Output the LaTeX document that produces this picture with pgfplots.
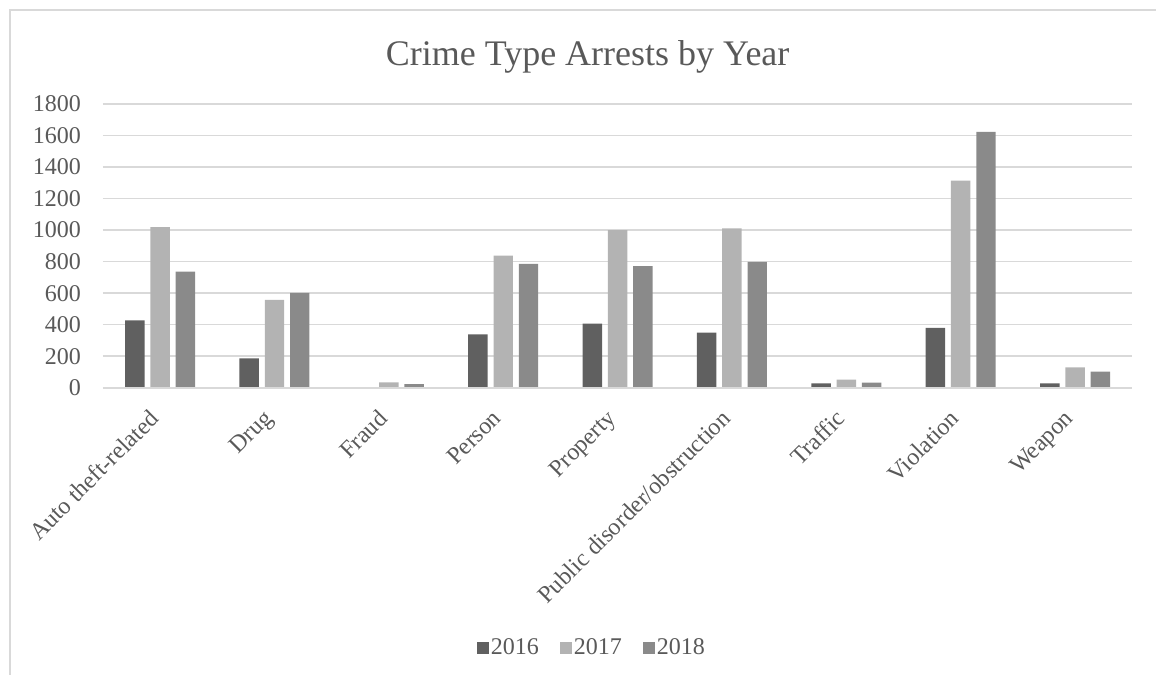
\documentclass[border=0pt]{standalone}
\usepackage{pgfplots}
\pgfplotsset{compat=1.18}
\usepackage{fontspec}
\setmainfont{Liberation Serif}
\definecolor{gridgray}{HTML}{D9D9D9}
\definecolor{textgray}{HTML}{595959}
\definecolor{cA}{HTML}{606060}
\definecolor{cB}{HTML}{B3B3B3}
\definecolor{cC}{HTML}{8A8A8A}
\begin{document}
\begin{tikzpicture}[x=1pt,y=1pt]
\path (0,0) rectangle (1157,675);
\draw[gridgray, line width=1.5pt] (10,0) -- (10,665) -- (1157,665);
\node[text=textgray, font=\fontsize{36}{40}\selectfont] at (588,618) {Crime Type Arrests by Year};
\begin{axis}[
  at={(103pt,287pt)}, anchor=south west,
  scale only axis, width=1030pt, height=284pt,
  xmin=-0.5, xmax=8.5, ymin=0, ymax=1800,
  ytick={0,200,...,1800},
  xtick={0,...,8},
  xticklabels={Auto theft-related,Drug,Fraud,Person,Property,Public disorder/obstruction,Traffic,Violation,Weapon},
  axis line style={draw=none},
  axis x line*=bottom,
  axis y line*=left,
  ymajorgrids, grid style={gridgray, line width=1.5pt},
  major tick length=0pt,
  /pgf/number format/assume math mode=true,
  /pgf/number format/1000 sep={},
  tick label style={text=textgray, font=\fontsize{24}{28}\selectfont},
  yticklabel style={inner sep=0pt, xshift=-22pt},
  xticklabel style={rotate=45, anchor=north east, inner sep=0pt, xshift=-23pt, yshift=-6pt},
  ybar, bar width=0.17,
  legend columns=3,
  legend style={at={(0.475,-0.915)}, anchor=center, draw=none, fill=none,
    font=\fontsize{24}{28}\selectfont, text=textgray,
    /tikz/every even column/.append style={column sep=19pt},
    nodes={inner sep=2pt}},
  legend image code/.code={\fill[#1] (1pt,-7pt) rectangle (13pt,5pt);},
  clip=false,
]
\addplot[fill=cA, draw=none, bar shift=-0.221] coordinates {(0,428) (1,186) (2,0) (3,338) (4,407) (5,350) (6,27) (7,380) (8,27)};
\addplot[fill=cB, draw=none, bar shift=0] coordinates {(0,1019) (1,557) (2,34) (3,838) (4,1000) (5,1011) (6,51) (7,1313) (8,129)};
\addplot[fill=cC, draw=none, bar shift=0.221] coordinates {(0,736) (1,601) (2,23) (3,785) (4,772) (5,798) (6,32) (7,1623) (8,103)};
\draw[gridgray, line width=1.5pt] (rel axis cs:0,0) -- (rel axis cs:1,0);
\legend{2016,2017,2018}
\end{axis}
\end{tikzpicture}
\end{document}
